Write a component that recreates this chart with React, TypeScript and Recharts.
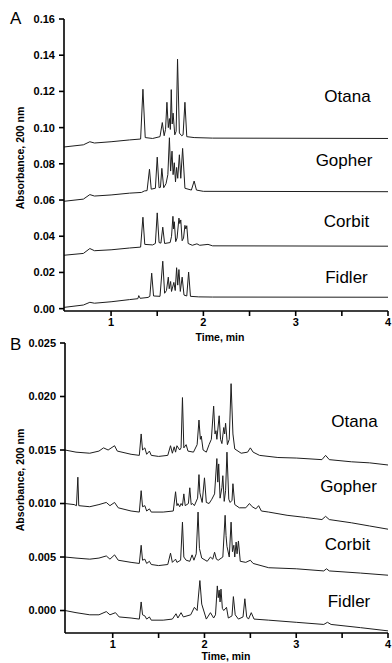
import { LineChart, Line, XAxis, YAxis } from "recharts";

type Pt = [number, number];

// [time (min), absorbance at 200 nm]
const timeTicks = [1, 1.5, 2, 2.5, 3, 3.5, 4];
const ticksA = [0, 0.02, 0.04, 0.06, 0.08, 0.1, 0.12, 0.14, 0.16];
const ticksB = [0, 0.005, 0.01, 0.015, 0.02, 0.025];
const cultivars = ["Otana", "Gopher", "Corbit", "Fidler"];

// panel A
const otanaA: Pt[] = [
  [0.49, 0.0893], [0.7, 0.0905], [0.77, 0.0922], [0.82, 0.0915], [1.0, 0.0922], [1.2, 0.0932],
  [1.32, 0.0937], [1.345, 0.1212], [1.37, 0.0945], [1.45, 0.094], [1.53, 0.095], [1.555, 0.1028],
  [1.575, 0.0955], [1.59, 0.099], [1.605, 0.114], [1.62, 0.1], [1.632, 0.105], [1.642, 0.099],
  [1.652, 0.121], [1.662, 0.102], [1.672, 0.108], [1.69, 0.096], [1.705, 0.098], [1.72, 0.1378],
  [1.74, 0.097], [1.765, 0.0955], [1.78, 0.096], [1.8, 0.114], [1.82, 0.095], [1.9, 0.0945],
  [2.1, 0.0942], [4.0, 0.094],
];
const gopherA: Pt[] = [
  [0.49, 0.0593], [0.7, 0.0605], [0.77, 0.063], [0.82, 0.0622], [1.0, 0.0628], [1.2, 0.0638],
  [1.33, 0.0642], [1.36, 0.065], [1.39, 0.0652], [1.416, 0.077], [1.435, 0.066], [1.48, 0.0665],
  [1.5, 0.0837], [1.52, 0.0668], [1.535, 0.067], [1.55, 0.0775], [1.57, 0.0668], [1.595, 0.069],
  [1.615, 0.074], [1.632, 0.0944], [1.645, 0.076], [1.66, 0.087], [1.672, 0.074], [1.685, 0.0806],
  [1.698, 0.07], [1.71, 0.078], [1.722, 0.072], [1.74, 0.085], [1.755, 0.072], [1.775, 0.0885],
  [1.8, 0.0665], [1.87, 0.0655], [1.9, 0.0705], [1.925, 0.0655], [2.0, 0.0648], [4.0, 0.0646],
];
const corbitA: Pt[] = [
  [0.49, 0.0295], [0.7, 0.0305], [0.77, 0.0332], [0.82, 0.032], [1.0, 0.0325], [1.2, 0.0335],
  [1.32, 0.034], [1.345, 0.0505], [1.365, 0.0355], [1.45, 0.0352], [1.48, 0.036], [1.5, 0.0529],
  [1.52, 0.0365], [1.54, 0.0362], [1.56, 0.045], [1.58, 0.036], [1.64, 0.0365], [1.655, 0.04],
  [1.67, 0.051], [1.678, 0.044], [1.685, 0.048], [1.7, 0.037], [1.715, 0.039], [1.735, 0.05],
  [1.745, 0.047], [1.755, 0.049], [1.77, 0.0375], [1.785, 0.039], [1.8, 0.046], [1.81, 0.044],
  [1.82, 0.0458], [1.835, 0.036], [1.88, 0.035], [1.93, 0.0358], [1.96, 0.035], [2.05, 0.0355],
  [2.1, 0.0347], [4.0, 0.0345],
];
const fidlerA: Pt[] = [
  [0.49, 0.0007], [0.7, 0.002], [0.77, 0.0035], [0.82, 0.003], [1.0, 0.0038], [1.2, 0.005],
  [1.29, 0.0055], [1.3, 0.0072], [1.315, 0.0057], [1.4, 0.0062], [1.42, 0.0068], [1.44, 0.0196],
  [1.46, 0.007], [1.53, 0.0068], [1.56, 0.0262], [1.58, 0.0085], [1.6, 0.01], [1.62, 0.0174],
  [1.63, 0.011], [1.645, 0.015], [1.655, 0.0095], [1.68, 0.0145], [1.695, 0.01], [1.71, 0.0226],
  [1.722, 0.013], [1.735, 0.0216], [1.75, 0.0095], [1.77, 0.0174], [1.79, 0.0075], [1.82, 0.007],
  [1.84, 0.0202], [1.86, 0.0068], [1.95, 0.0065], [2.1, 0.0064], [4.0, 0.0063],
];

// panel B
const otanaB: Pt[] = [
  [0.48, 0.015], [0.6, 0.0148], [0.75, 0.0147], [0.85, 0.0149], [0.9, 0.0152], [0.95, 0.015],
  [1.02, 0.0154], [1.05, 0.0149], [1.2, 0.0146], [1.29, 0.0145], [1.31, 0.0165], [1.325, 0.015],
  [1.35, 0.0152], [1.37, 0.0146], [1.4, 0.0149], [1.42, 0.0145], [1.5, 0.0144], [1.6, 0.0145],
  [1.63, 0.0154], [1.65, 0.0147], [1.67, 0.0153], [1.685, 0.0148], [1.7, 0.0154], [1.73, 0.015],
  [1.745, 0.0152], [1.76, 0.0199], [1.775, 0.0152], [1.8, 0.0155], [1.82, 0.0149], [1.88, 0.0148],
  [1.92, 0.0155], [1.94, 0.0178], [1.955, 0.016], [1.965, 0.0163], [1.985, 0.015], [2.02, 0.0148],
  [2.05, 0.0155], [2.075, 0.016], [2.1, 0.0191], [2.115, 0.0165], [2.125, 0.0168], [2.135, 0.016],
  [2.16, 0.0182], [2.175, 0.016], [2.19, 0.0156], [2.21, 0.0171], [2.22, 0.0165], [2.23, 0.0175],
  [2.25, 0.0155], [2.27, 0.016], [2.29, 0.0212], [2.31, 0.0165], [2.33, 0.0151], [2.4, 0.0147],
  [2.47, 0.0148], [2.5, 0.0152], [2.53, 0.0148], [2.6, 0.0145], [2.8, 0.0143], [3.0, 0.01425],
  [3.28, 0.0141], [3.32, 0.0145], [3.36, 0.0141], [3.6, 0.0139], [3.8, 0.0138], [4.0, 0.0136],
];
const gopherB: Pt[] = [
  [0.48, 0.01], [0.58, 0.0099], [0.605, 0.0098], [0.62, 0.01246], [0.63, 0.0098], [0.75, 0.0097],
  [0.85, 0.0099], [0.93, 0.0101], [0.97, 0.0098], [1.02, 0.0101], [1.06, 0.0096], [1.2, 0.0093],
  [1.29, 0.0092], [1.31, 0.0112], [1.325, 0.0097], [1.35, 0.0098], [1.37, 0.0093], [1.4, 0.0095],
  [1.42, 0.0092], [1.55, 0.0092], [1.66, 0.0093], [1.685, 0.0111], [1.7, 0.0098], [1.71, 0.01],
  [1.73, 0.0097], [1.745, 0.01], [1.76, 0.0098], [1.775, 0.0109], [1.79, 0.0098], [1.825, 0.01],
  [1.84, 0.01147], [1.855, 0.0099], [1.87, 0.01], [1.89, 0.0098], [1.925, 0.0105], [1.94, 0.0127],
  [1.95, 0.011], [1.96, 0.0106], [1.975, 0.0101], [2.0, 0.0124], [2.02, 0.0101], [2.05, 0.01],
  [2.08, 0.0104], [2.11, 0.0109], [2.135, 0.0142], [2.145, 0.012], [2.155, 0.0137], [2.17, 0.0105],
  [2.19, 0.0115], [2.2, 0.0126], [2.215, 0.0102], [2.23, 0.0112], [2.245, 0.0148], [2.265, 0.0104],
  [2.28, 0.0101], [2.3, 0.0103], [2.31, 0.01185], [2.33, 0.0099], [2.38, 0.0096], [2.45, 0.0096],
  [2.49, 0.01], [2.52, 0.0097], [2.56, 0.0095], [2.59, 0.0098], [2.62, 0.0093], [2.7, 0.0092],
  [2.9, 0.0089], [3.1, 0.0087], [3.28, 0.0085], [3.32, 0.0088], [3.36, 0.0085], [3.6, 0.0082],
  [3.8, 0.0079], [4.0, 0.0076],
];
const corbitB: Pt[] = [
  [0.48, 0.005], [0.6, 0.0049], [0.75, 0.0048], [0.85, 0.0049], [0.93, 0.0051], [0.97, 0.0048],
  [1.02, 0.0052], [1.06, 0.0047], [1.2, 0.0045], [1.29, 0.0044], [1.31, 0.0061], [1.325, 0.0047],
  [1.35, 0.0048], [1.37, 0.0044], [1.4, 0.0046], [1.42, 0.0043], [1.5, 0.0042], [1.6, 0.0043],
  [1.63, 0.00536], [1.65, 0.0045], [1.685, 0.0048], [1.7, 0.0045], [1.74, 0.0047], [1.76, 0.00826],
  [1.775, 0.005], [1.8, 0.0047], [1.84, 0.0046], [1.865, 0.0052], [1.885, 0.0047], [1.91, 0.0053],
  [1.93, 0.0092], [1.945, 0.0058], [1.97, 0.0049], [2.03, 0.0046], [2.065, 0.005], [2.09, 0.0048],
  [2.11, 0.00545], [2.13, 0.0048], [2.15, 0.0047], [2.2, 0.005], [2.225, 0.0089], [2.235, 0.007],
  [2.245, 0.006], [2.27, 0.005], [2.29, 0.00826], [2.305, 0.0055], [2.32, 0.0061], [2.33, 0.005],
  [2.345, 0.0064], [2.355, 0.0053], [2.37, 0.0065], [2.39, 0.0046], [2.45, 0.0045], [2.5, 0.0047],
  [2.53, 0.0044], [2.7, 0.004], [3.0, 0.0039], [3.3, 0.0037], [3.33, 0.0039], [3.36, 0.0037],
  [3.7, 0.0035], [4.0, 0.0033],
];
const fidlerB: Pt[] = [
  [0.48, 0.0], [0.6, -0.0002], [0.75, -0.0004], [0.85, -0.0004], [0.93, -0.0001], [0.97, -0.0004],
  [1.03, -0.0002], [1.07, -0.0006], [1.2, -0.0007], [1.29, -0.0008], [1.31, 0.0008], [1.325, -0.0004],
  [1.35, -0.0005], [1.37, -0.0008], [1.4, -0.0006], [1.42, -0.0009], [1.55, -0.0009], [1.65, -0.0008],
  [1.69, -0.0003], [1.71, -0.0007], [1.745, -0.0002], [1.77, -0.0006], [1.85, -0.0004], [1.89, 0.0003],
  [1.92, 0.0], [1.95, 0.0028], [1.97, 0.0006], [2.02, -0.0008], [2.065, -0.0002], [2.1, -0.0007],
  [2.12, -0.0004], [2.14, 0.0023], [2.15, 0.0012], [2.16, 0.0019], [2.17, 0.0008], [2.18, 0.002],
  [2.195, 0.0002], [2.21, 0.0], [2.24, 0.0003], [2.26, -0.0007], [2.3, -0.0005], [2.315, 0.0013],
  [2.335, -0.0004], [2.37, -0.0008], [2.42, -0.0006], [2.44, 0.0011], [2.46, -0.0006], [2.48, -0.0008],
  [2.51, -0.0002], [2.54, -0.0008], [2.7, -0.0009], [3.0, -0.0011], [3.3, -0.0013], [3.34, -0.0011],
  [3.38, -0.0013], [3.7, -0.0016], [4.0, -0.0019],
];

const FONT = "'Liberation Sans', Arial, sans-serif";
const toRows = (pts: Pt[]) => pts.map(([t, v]) => ({ t, v }));
// whole minutes get a label, half minutes only a tick
const timeLabel = (v: number) => (Number.isInteger(v) ? String(v) : "");

type PanelProps = {
  top: number;
  height: number;
  marginTop: number;
  axisWidth: number;
  xAxisHeight: number;
  xDomain: [number, number];
  yDomain: [number, number];
  yTicks: number[];
  digits: number;
  traces: Pt[][];
};

function Panel(p: PanelProps) {
  const axisStyle = { stroke: "#000", strokeWidth: 1.6 };
  const tickStyle = { fill: "#000", fontSize: 11, fontWeight: 700, fontFamily: FONT };
  return (
    <div style={{ position: "absolute", left: 0, top: p.top }}>
      <LineChart width={392} height={p.height} margin={{ top: p.marginTop, right: 4, left: 0, bottom: 0 }}>
        <XAxis
          dataKey="t"
          type="number"
          domain={p.xDomain}
          allowDataOverflow
          ticks={timeTicks}
          interval={0}
          tickFormatter={timeLabel}
          height={p.xAxisHeight}
          axisLine={axisStyle}
          tickLine={axisStyle}
          tickSize={5}
          tickMargin={2}
          tick={tickStyle}
        />
        <YAxis
          type="number"
          domain={p.yDomain}
          allowDataOverflow
          ticks={p.yTicks}
          interval={0}
          tickFormatter={(v: number) => v.toFixed(p.digits)}
          width={p.axisWidth}
          axisLine={axisStyle}
          tickLine={axisStyle}
          tickSize={5}
          tickMargin={4}
          tick={tickStyle}
        />
        {p.traces.map((pts, i) => (
          <Line
            key={cultivars[i]}
            data={toRows(pts)}
            dataKey="v"
            type="linear"
            stroke="#1e1e1e"
            strokeWidth={1}
            dot={false}
            isAnimationActive={false}
          />
        ))}
      </LineChart>
    </div>
  );
}

const labelsA = [
  { x: 347.5, y: 102 },
  { x: 344, y: 166 },
  { x: 346.5, y: 227 },
  { x: 346.5, y: 283 },
];
const labelsB = [
  { x: 354.5, y: 427 },
  { x: 348.5, y: 492 },
  { x: 347.5, y: 550 },
  { x: 349, y: 607 },
];

export default function App() {
  return (
    <div style={{ position: "fixed", left: 0, top: 0, width: 392, height: 663, background: "#fff" }}>
      <Panel
        top={0}
        height={345}
        marginTop={19}
        axisWidth={64}
        xAxisHeight={34}
        xDomain={[0.49, 4]}
        yDomain={[-0.0013, 0.16]}
        yTicks={ticksA}
        digits={2}
        traces={[otanaA, gopherA, corbitA, fidlerA]}
      />
      <Panel
        top={325}
        height={338}
        marginTop={18}
        axisWidth={65}
        xAxisHeight={30}
        xDomain={[0.48, 4]}
        yDomain={[-0.0021, 0.025]}
        yTicks={ticksB}
        digits={3}
        traces={[otanaB, gopherB, corbitB, fidlerB]}
      />
      <svg width={392} height={663} style={{ position: "absolute", left: 0, top: 0, pointerEvents: "none" }}>
        <g fontFamily={FONT} fill="#000">
          <text x={10} y={24} fontSize={17}>A</text>
          <text x={10} y={350} fontSize={17}>B</text>
          {cultivars.map((c, i) => (
            <text key={"a" + c} x={labelsA[i].x} y={labelsA[i].y} fontSize={17} textAnchor="middle">{c}</text>
          ))}
          {cultivars.map((c, i) => (
            <text key={"b" + c} x={labelsB[i].x} y={labelsB[i].y} fontSize={17} textAnchor="middle">{c}</text>
          ))}
          <text x={220} y={341} fontSize={10.5} fontWeight={700} textAnchor="middle">Time, min</text>
          <text x={226} y={660} fontSize={10.5} fontWeight={700} textAnchor="middle">Time, min</text>
          <text transform="translate(24,158) rotate(-90)" fontSize={10.5} fontWeight={700} textAnchor="middle">Absorbance, 200 nm</text>
          <text transform="translate(24,480) rotate(-90)" fontSize={10.5} fontWeight={700} textAnchor="middle">Absorbance, 200 nm</text>
        </g>
      </svg>
    </div>
  );
}
